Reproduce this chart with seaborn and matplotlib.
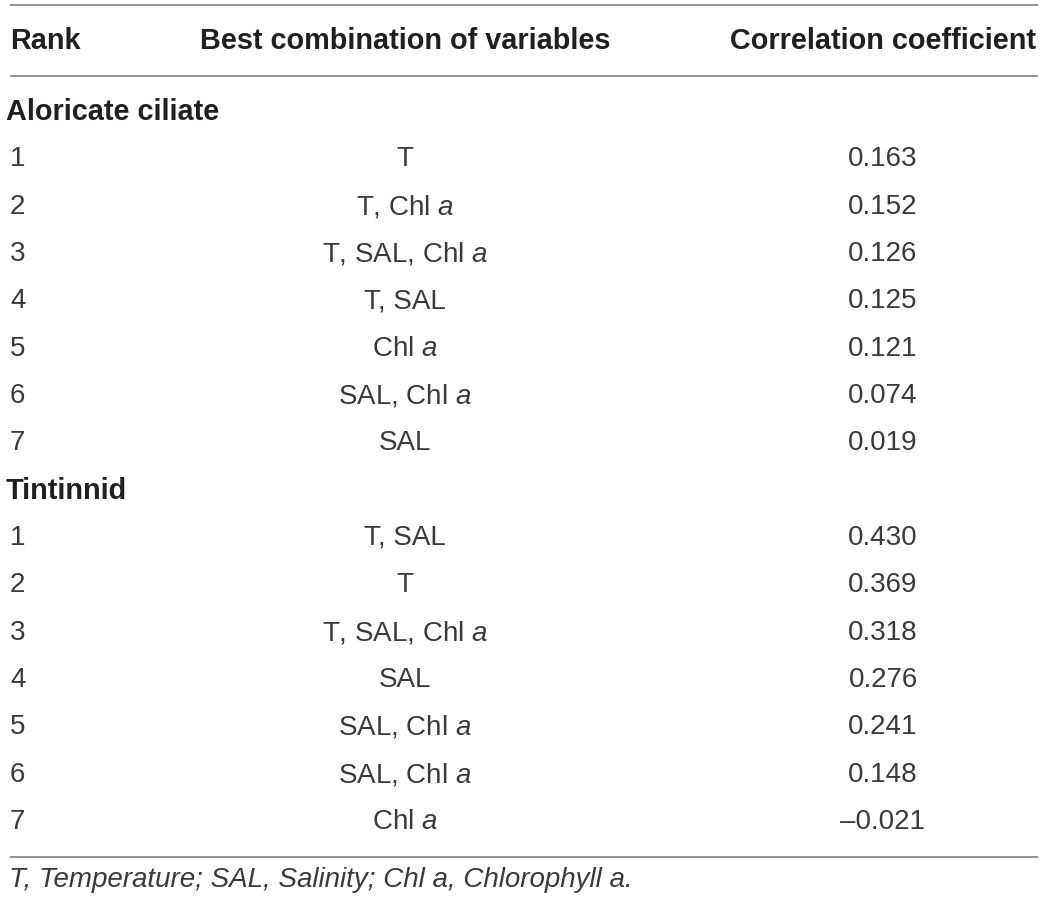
import matplotlib
matplotlib.use("Agg")
import matplotlib.pyplot as plt
import seaborn as sns

sns.set_theme(style="white")
plt.rcParams['font.family'] = ['Liberation Sans', 'DejaVu Sans']
plt.rcParams['mathtext.fontset'] = 'custom'
plt.rcParams['mathtext.rm'] = 'Liberation Sans'
plt.rcParams['mathtext.it'] = 'Liberation Sans:italic'

headers = ["Rank", "Best combination of variables", "Correlation coefficient"]
groups = ["Aloricate ciliate", "Tintinnid"]
ranks = [1, 2, 3, 4, 5, 6, 7]
aloricate_vars = ["T", "T, Chl $\\mathit{a}$", "T, SAL, Chl $\\mathit{a}$", "T, SAL",
                  "Chl $\\mathit{a}$", "SAL, Chl $\\mathit{a}$", "SAL"]
aloricate_r = [0.163, 0.152, 0.126, 0.125, 0.121, 0.074, 0.019]
tintinnid_vars = ["T, SAL", "T", "T, SAL, Chl $\\mathit{a}$", "SAL",
                  "SAL, Chl $\\mathit{a}$", "SAL, Chl $\\mathit{a}$", "Chl $\\mathit{a}$"]
tintinnid_r = [0.430, 0.369, 0.318, 0.276, 0.241, 0.148, -0.021]
footnote = "T, Temperature; SAL, Salinity; Chl a, Chlorophyll a."

W, H = 1044, 906
fig = plt.figure(figsize=(W / 100, H / 100), dpi=100)
ax = fig.add_axes([0, 0, 1, 1])
ax.set_xlim(0, W)
ax.set_ylim(H, 0)
ax.axis("off")

fs = 20
fs_bold = 20.8
dark = "#231f20"
body = "#3a3a3a"
rule = "#8c8c8c"
x_rank, x_var, x_r = 10, 405, 883
step = 47.33
y0 = 112


def fmt(v):
    s = f"{abs(v):.3f}"
    return ("\u2013" + s) if v < 0 else s


# rules
ax.hlines([5, 76, 857], 10, 1038, color=rule, lw=1.3)

# header
ax.text(x_rank, 41, headers[0], fontsize=fs_bold, fontweight="bold", color=dark, va="center", ha="left")
ax.text(x_var, 41, headers[1], fontsize=fs_bold, fontweight="bold", color=dark, va="center", ha="center")
ax.text(x_r, 41, headers[2], fontsize=fs_bold, fontweight="bold", color=dark, va="center", ha="center")

row = 0
for g, vars_, vals in [(groups[0], aloricate_vars, aloricate_r), (groups[1], tintinnid_vars, tintinnid_r)]:
    y = y0 + row * step
    ax.text(6, y, g, fontsize=fs_bold, fontweight="bold", color=dark, va="center", ha="left")
    row += 1
    for rk, v, r in zip(ranks, vars_, vals):
        y = y0 + row * step
        ax.text(x_rank, y, str(rk), fontsize=fs, color=body, va="center", ha="left")
        ax.text(x_var, y, v, fontsize=fs, color=body, va="center", ha="center")
        ax.text(x_r, y, fmt(r), fontsize=fs, color=body, va="center", ha="center")
        row += 1

ax.text(9, 880, footnote, fontsize=fs, style="italic", color=body, va="center", ha="left")

fig.savefig("out.png", dpi=100, facecolor="white")
